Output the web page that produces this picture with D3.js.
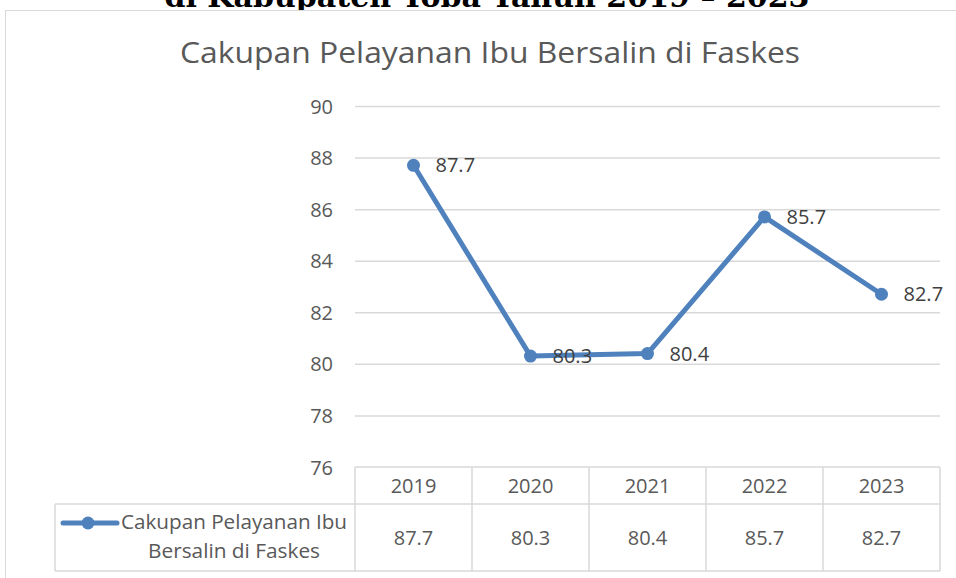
<!DOCTYPE html>
<html><head><meta charset="utf-8">
<script src="https://cdn.jsdelivr.net/npm/d3@7"></script>
<style>body{margin:0;background:#fff}svg{display:block}</style>
</head><body><svg id="c" width="956" height="578"></svg>
<script>
const categories = ["2019","2020","2021","2022","2023"];
const values = [87.7, 80.3, 80.4, 85.7, 82.7];
const seriesName = ["Cakupan Pelayanan Ibu", "Bersalin di Faskes"];
const yTicks = [76,78,80,82,84,86,88,90];
const chartTitle = "Cakupan Pelayanan Ibu Bersalin di Faskes";
const pageTitle = "di Kabupaten Toba Tahun 2019 – 2023";

const svg = d3.select("#c");
const font = "'Open Sans', sans-serif";
const grey = "#595959", gridC = "#d9d9d9", lineC = "#4f81bd";
const L = 355, R = 940, T = 106, B = 467;

// cropped document heading
svg.append("text").attr("x", 487).attr("y", 7).attr("text-anchor","middle")
  .attr("font-family","'DejaVu Serif', serif").attr("font-weight","bold")
  .attr("font-size", 30).attr("fill","#000")
  .attr("textLength",645).attr("lengthAdjust","spacingAndGlyphs").text(pageTitle);

// chart frame
svg.append("rect").attr("x",5.5).attr("y",10.5).attr("width",960).attr("height",600)
  .attr("fill","#fff").attr("stroke",gridC);

svg.append("text").attr("x",490).attr("y",63).attr("text-anchor","middle")
  .attr("font-family",font).attr("font-size",29).attr("fill",grey)
  .attr("textLength",620).attr("lengthAdjust","spacingAndGlyphs").text(chartTitle);

const x = d3.scaleBand().domain(categories).range([L,R]);
const y = d3.scaleLinear().domain([76,90]).range([B,T]);

// gridlines
svg.append("g").selectAll("line").data(yTicks.filter(d=>d>76)).join("line")
  .attr("x1",L).attr("x2",R).attr("y1",d=>y(d)+0.5).attr("y2",d=>y(d)+0.5)
  .attr("stroke",gridC).attr("stroke-width",1.5);

// y axis labels
const yAxis = d3.axisLeft(y).tickValues(yTicks).tickSize(0).tickPadding(0);
const ga = svg.append("g").attr("transform",`translate(${L-22},0)`).call(yAxis);
ga.select(".domain").remove();
ga.selectAll("text").attr("font-family",font).attr("font-size",20).attr("fill",grey).attr("dy","0.35em");

// data table
const rowTop = B, rowMid = 504, rowBot = 571, legL = 55;
const tb = svg.append("g").attr("stroke",gridC).attr("stroke-width",1.5);
tb.append("line").attr("x1",L).attr("x2",R).attr("y1",rowTop).attr("y2",rowTop);
tb.append("line").attr("x1",legL).attr("x2",R).attr("y1",rowMid).attr("y2",rowMid);
tb.append("line").attr("x1",legL).attr("x2",R).attr("y1",rowBot).attr("y2",rowBot);
tb.append("line").attr("x1",legL).attr("x2",legL).attr("y1",rowMid).attr("y2",rowBot);
const edges = categories.map(c=>x(c)).concat([R]);
tb.selectAll(".v").data(edges).join("line").attr("x1",d=>d).attr("x2",d=>d)
  .attr("y1",rowTop).attr("y2",rowBot);

svg.append("g").selectAll("text").data(categories).join("text")
  .attr("x",d=>x(d)+x.bandwidth()/2).attr("y",(rowTop+rowMid)/2).attr("dy","0.35em")
  .attr("text-anchor","middle").attr("font-family",font).attr("font-size",20).attr("fill",grey)
  .text(d=>d);
svg.append("g").selectAll("text").data(values).join("text")
  .attr("x",(d,i)=>x(categories[i])+x.bandwidth()/2).attr("y",(rowMid+rowBot)/2).attr("dy","0.35em")
  .attr("text-anchor","middle").attr("font-family",font).attr("font-size",20).attr("fill",grey)
  .text(d=>d.toFixed(1));

// legend key
svg.append("line").attr("x1",63).attr("x2",117).attr("y1",523).attr("y2",523)
  .attr("stroke",lineC).attr("stroke-width",5).attr("stroke-linecap","round");
svg.append("circle").attr("cx",88).attr("cy",523).attr("r",6.5).attr("fill",lineC);
svg.append("text").attr("x",234).attr("y",529).attr("text-anchor","middle").attr("font-family",font)
  .attr("font-size",20).attr("fill",grey).attr("textLength",226).attr("lengthAdjust","spacingAndGlyphs")
  .text(seriesName[0]);
svg.append("text").attr("x",234).attr("y",558).attr("text-anchor","middle").attr("font-family",font)
  .attr("font-size",20).attr("fill",grey).attr("textLength",172).attr("lengthAdjust","spacingAndGlyphs")
  .text(seriesName[1]);

// line + markers
const cx = (d,i)=>x(categories[i])+x.bandwidth()/2;
svg.append("path").datum(values)
  .attr("d", d3.line().x(cx).y(d=>y(d)))
  .attr("fill","none").attr("stroke",lineC).attr("stroke-width",5).attr("stroke-linejoin","round");
svg.append("g").selectAll("circle").data(values).join("circle")
  .attr("cx",cx).attr("cy",d=>y(d)).attr("r",6.5).attr("fill",lineC);
svg.append("g").selectAll("text").data(values).join("text")
  .attr("x",(d,i)=>cx(d,i)+22).attr("y",d=>y(d)).attr("dy","0.35em")
  .attr("font-family",font).attr("font-size",20).attr("fill","#404040")
  .text(d=>d.toFixed(1));
</script></body></html>
